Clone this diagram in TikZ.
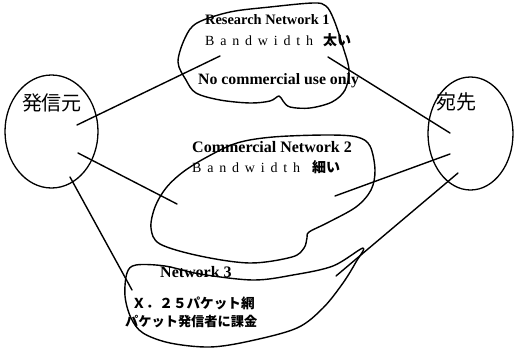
\documentclass[tikz,border=0pt]{standalone}
\usepackage{fontspec}
\setmainfont{Liberation Serif}
\newfontfamily\jp{Noto Sans CJK JP}
\usetikzlibrary{shapes.geometric}
\newcommand\gapp{\hspace{5.8pt}}
\begin{document}
\begin{tikzpicture}[x=1pt,y=-1pt,
  outline/.style={line width=1.4pt, line join=round},
  conn/.style={line width=1.4pt, line cap=round},
  lbl/.style={inner sep=0pt, anchor=west},
  endpt/.style={ellipse, draw, line width=1.3pt, inner sep=0pt}]
\useasboundingbox (0,0) rectangle (520,351);
% end-point ellipses
\node[endpt, minimum width=93pt, minimum height=113pt] (src) at (51.5,131.5) {};
\node[endpt, minimum width=85pt, minimum height=113pt] (dst) at (470.5,133.5) {};
\node[inner sep=0pt, font=\jp\fontsize{20}{22}\selectfont] (srclbl) at (52,103) {発信元};
\node[inner sep=0pt, font=\jp\fontsize{20}{22}\selectfont] (dstlbl) at (456,102) {宛先};
% clouds
\draw[outline] plot[smooth cycle, tension=0.55] coordinates {
  (197,23) (230,12) (270,7) (313,3) (326,6) (334,20) (343,47) (349,70)
  (345,90) (332,102) (310,108) (290,107) (283,101) (279,96) (270,101)
  (250,103) (220,100) (196,93) (186,80) (178,62) (185,38)};
\draw[outline] plot[smooth cycle, tension=0.55] coordinates {
  (183,172) (207,157) (237,143) (273,137) (327,135) (357,137) (370,146)
  (375,170) (371,190) (356,207) (327,223) (309,232) (307,238) (304,248)
  (292,257) (250,263) (200,256) (160,244) (151,228) (155,207) (166,188)};
\draw[outline] plot[smooth cycle, tension=0.55] coordinates {
  (127,273) (136,265) (165,266) (200,274) (253,280) (293,275) (333,266)
  (363,248) (356,262) (343,283) (323,308) (297,328) (250,341) (210,347)
  (170,343) (143,333) (131,318) (125,296)};
% connector end points
\coordinate (s1) at (77,125);  \coordinate (n1a) at (220,56);
\coordinate (s2) at (78,153);  \coordinate (n2a) at (177,204);
\coordinate (s3) at (70,177);  \coordinate (n3a) at (132,290);
\coordinate (n1b) at (328,57); \coordinate (d1) at (450,133);
\coordinate (n2b) at (335,196); \coordinate (d2) at (450,154);
\coordinate (n3b) at (336,276); \coordinate (d3) at (458,173);
\draw[conn] (s1) -- (n1a);
\draw[conn] (s2) -- (n2a);
\draw[conn] (s3) -- (n3a);
\draw[conn] (n1b) -- (d1);
\draw[conn] (n2b) -- (d2);
\draw[conn] (n3b) -- (d3);
% texts
\node[lbl, font=\bfseries\fontsize{14.4}{16}\selectfont] (t1) at (205,20) {Research Network 1};
\node[lbl, font=\fontsize{14}{16}\selectfont] (t2) at (205,40) {B\gapp a\gapp n\gapp d\gapp w\gapp i\gapp d\gapp t\gapp h\hspace{10pt}{\jp\bfseries 太い}};
\node[lbl, font=\bfseries\fontsize{15.8}{18}\selectfont] (t3) at (198,81) {No commercial use only};
\node[lbl, font=\bfseries\fontsize{16}{18}\selectfont] (t4) at (192,147) {Commercial Network 2};
\node[lbl, font=\fontsize{14}{16}\selectfont] (t5) at (192,167) {B\gapp a\gapp n\gapp d\gapp w\gapp i\gapp d\gapp t\gapp h\hspace{12pt}{\jp\bfseries 細い}};
\node[lbl, font=\bfseries\fontsize{16}{18}\selectfont] (t6) at (160,272) {Network 3};
\node[lbl, font=\jp\bfseries\fontsize{13.6}{15}\selectfont] (t7) at (132,303) {Ｘ．２５パケット網};
\node[lbl, font=\jp\bfseries\fontsize{13.2}{15}\selectfont] (t8) at (125,322) {パケット発信者に課金};
\end{tikzpicture}
\end{document}
